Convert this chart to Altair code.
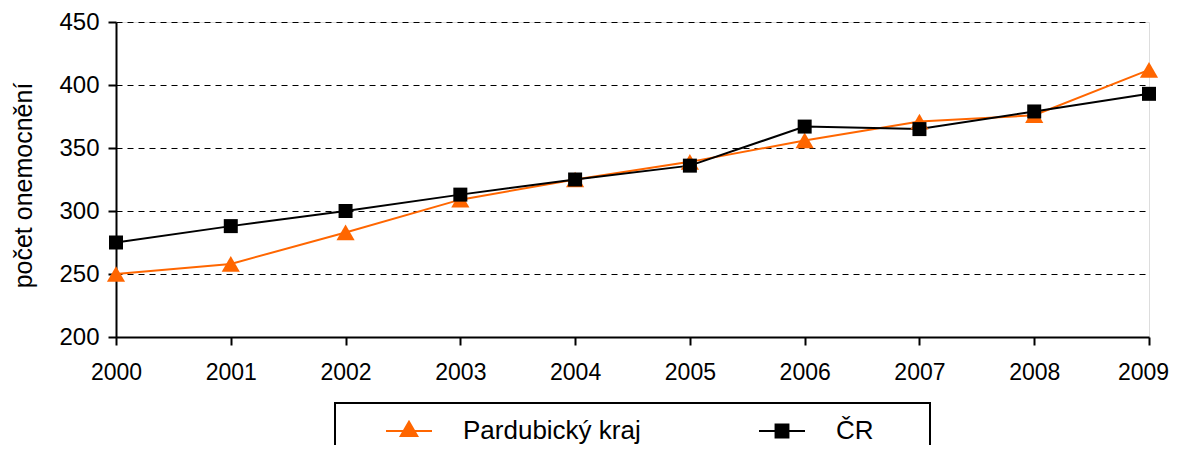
import altair as alt
import pandas as pd

years = [2000, 2001, 2002, 2003, 2004, 2005, 2006, 2007, 2008, 2009]
pardubice = [250, 258, 283, 309, 325, 339, 356, 371, 376, 412]
cr = [275, 288, 300, 313, 325, 336, 367, 365, 379, 393]
series_names = ["Pardubický kraj", "ČR"]
series_colors = ["#FF6600", "#000000"]
y_ticks = [200, 250, 300, 350, 400, 450]

rows = []
for name, vals in zip(series_names, [pardubice, cr]):
    for yr, v in zip(years, vals):
        rows.append({"rok": yr, "hodnota": v, "serie": name})
df = pd.DataFrame(rows)

FONT = "Liberation Sans"

x_enc = alt.X("rok:Q",
              scale=alt.Scale(domain=[2000, 2009], nice=False, zero=False),
              axis=alt.Axis(values=years, format="d", title=None, grid=False,
                            labelFontSize=23, labelFont=FONT, labelColor="black",
                            labelPadding=16, tickSize=8, tickColor="black", tickWidth=2,
                            domainColor="black", domainWidth=2, labelFlush=False,
                            labelOffset={"condition": {"test": "datum.value === 2009", "value": -6},
                                         "value": 0}))
y_enc = alt.Y("hodnota:Q",
              scale=alt.Scale(domain=[200, 450], nice=False, zero=False),
              axis=alt.Axis(values=y_ticks, title="počet onemocnění",
                            titleFontSize=25, titleFont=FONT, titleFontWeight="normal",
                            titleColor="black", titleAngle=270, titleX=-85, titleY=163,
                            titleAlign="center", titleBaseline="alphabetic",
                            labelFontSize=24, labelFont=FONT, labelColor="black",
                            labelPadding=9, tickSize=8, tickColor="black", tickWidth=2,
                            domainColor="black", domainWidth=2,
                            grid=True, gridColor="black", gridDash=[6, 5], gridWidth=1))

base = alt.Chart(df)

sym_shape = ("datum.value === 'ČR' ? 'M-1,0H1M-0.28,-0.28H0.28V0.28H-0.28Z' "
             ": 'M-1,0H1M0,-0.4L0.36,0.22L-0.36,0.22Z'")
sym_color = "datum.value === 'ČR' ? '#000000' : '#FF6600'"

lines = base.mark_line(strokeWidth=2).encode(
    x=x_enc, y=y_enc,
    color=alt.Color("serie:N",
                    scale=alt.Scale(domain=series_names, range=series_colors),
                    legend=alt.Legend(
                        orient="none", legendX=269, legendY=385, direction="horizontal",
                        title=None, padding=0, symbolSize=2116, symbolStrokeWidth=2,
                        symbolType={"expr": sym_shape},
                        symbolFillColor={"expr": sym_color},
                        symbolOpacity=1,
                        labelFontSize=26, labelFont=FONT, labelColor="black",
                        labelLimit=400, labelOffset=30, columnPadding=114)),
    detail="serie:N",
)

pts_p = base.transform_filter(alt.datum.serie == "Pardubický kraj").mark_point(
    shape="triangle-up", size=330, filled=True, color="#FF6600", opacity=1
).encode(x=x_enc, y=y_enc)

pts_c = base.transform_filter(alt.datum.serie == "ČR").mark_point(
    shape="square", size=196, filled=True, color="#000000", opacity=1
).encode(x=x_enc, y=y_enc)

legend_box = alt.Chart(alt.Data(values=[{"a": 1}])).mark_rect(
    fill=None, stroke="black", strokeWidth=2
).encode(x=alt.value(219), x2=alt.value(814), y=alt.value(381), y2=alt.value(450))

chart = alt.layer(lines, pts_p, pts_c, legend_box).properties(
    width=1033, height=315,
    padding={"left": 108, "top": 14, "right": 21, "bottom": 108},
    autosize=alt.AutoSizeParams(type="none"),
).configure_view(stroke="black", strokeWidth=2).configure(background="white")

chart.save("out.html", embed_options={"renderer": "svg", "actions": False})
